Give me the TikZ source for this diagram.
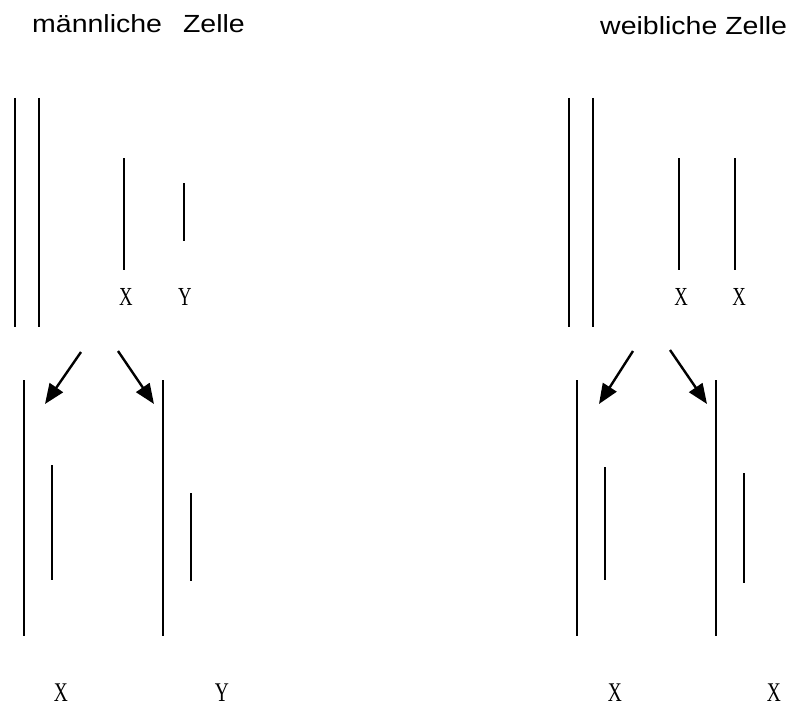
\documentclass[tikz,border=0pt]{standalone}
\usepackage{fontspec}
\usepackage{graphicx}
\setmainfont{Liberation Serif}
\newfontfamily\titlefont{Liberation Sans}
\usetikzlibrary{arrows.meta}
\newcommand{\chrlab}[1]{\scalebox{0.72}[1]{#1}}
\newcommand{\ttl}[1]{\scalebox{1}[0.87]{#1}}
\tikzset{
  chrom/.style={line width=1.8pt, line cap=butt},
  genarrow/.style={line width=2.4pt, -{Triangle[length=20pt,width=16pt]}},
  title/.style={font=\titlefont\fontsize{28.5}{32}\selectfont, inner sep=0pt, anchor=base west},
  lab/.style={font=\fontsize{26}{30}\selectfont, inner sep=0pt},
  blab/.style={font=\fontsize{27}{32}\selectfont, inner sep=0pt, anchor=base}
}
\begin{document}
\begin{tikzpicture}[x=1pt,y=-1pt]
\useasboundingbox (0,0) rectangle (794,706);
% titles
\node[title] (tm) at (32,33) {\ttl{männliche\hspace*{21pt}Zelle}};
\node[title] (tw) at (600,35) {\ttl{weibliche Zelle}};
% male top
\draw[chrom] (15,98) -- (15,327);
\draw[chrom] (39,98) -- (39,327);
\draw[chrom] (124,158) -- (124,270);
\draw[chrom] (184,183) -- (184,241);
\node[lab] (mx) at (126,297) {\chrlab{X}};
\node[lab] (my) at (185,297) {\chrlab{Y}};
% male arrows
\coordinate (ma1s) at (81,352); \coordinate (ma1e) at (45,404);
\coordinate (ma2s) at (118,351); \coordinate (ma2e) at (154,404);
\draw[genarrow] (ma1s) -- (ma1e);
\draw[genarrow] (ma2s) -- (ma2e);
% male bottom
\draw[chrom] (24,380) -- (24,636);
\draw[chrom] (52,465) -- (52,580);
\draw[chrom] (163,380) -- (163,636);
\draw[chrom] (191,493) -- (191,581);
\node[blab] (mbx) at (61,701) {\chrlab{X}};
\node[blab] (mby) at (222,701) {\chrlab{Y}};
% female top
\draw[chrom] (569,98) -- (569,327);
\draw[chrom] (593,98) -- (593,327);
\draw[chrom] (679,158) -- (679,270);
\draw[chrom] (735,158) -- (735,270);
\node[lab] (fx1) at (681,297) {\chrlab{X}};
\node[lab] (fx2) at (739,297) {\chrlab{X}};
% female arrows
\coordinate (fa1s) at (633,351); \coordinate (fa1e) at (599,404);
\coordinate (fa2s) at (670,350); \coordinate (fa2e) at (707,404);
\draw[genarrow] (fa1s) -- (fa1e);
\draw[genarrow] (fa2s) -- (fa2e);
% female bottom
\draw[chrom] (577,380) -- (577,636);
\draw[chrom] (605,467) -- (605,580);
\draw[chrom] (716,380) -- (716,636);
\draw[chrom] (744,473) -- (744,583);
\node[blab] (fbx1) at (615,701) {\chrlab{X}};
\node[blab] (fbx2) at (774,701) {\chrlab{X}};
\end{tikzpicture}
\end{document}
